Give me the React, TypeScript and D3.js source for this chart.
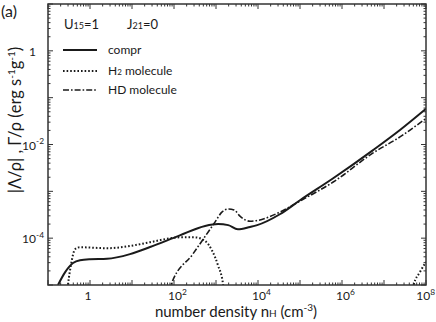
import React from "react";
import * as d3 from "d3";

// compr curve (number density nH, |Lambda/rho|)
const densityCompr = [0.173, 0.254, 0.394, 0.578, 1.0, 2.54, 8.96, 26.9, 138, 550, 1120, 1950, 3310, 6460, 9550, 33100, 1e5, 6.17e5, 5.5e6, 2.4e7, 1e8];
const rateCompr = [1e-5, 1.86e-5, 2.95e-5, 3.39e-5, 3.55e-5, 3.63e-5, 4.57e-5, 6.46e-5, 1.15e-4, 1.82e-4, 2.0e-4, 1.9e-4, 1.55e-4, 1.74e-4, 1.9e-4, 3.24e-4, 6.46e-4, 1.9e-3, 7.6e-3, 0.0204, 0.058];

// H2 molecule (two pieces)
const densityH2a = [0.28, 0.30, 0.353, 0.44, 0.578, 2.54, 8.96, 26.9, 138, 316, 550, 800, 1120, 1480, 1600];
const rateH2a = [5e-6, 1e-5, 2.7e-5, 5.8e-5, 6.4e-5, 6.1e-5, 6.8e-5, 8.2e-5, 1.04e-4, 1.04e-4, 8.7e-5, 5.5e-5, 2.6e-5, 1e-5, 5e-6];
const densityH2b = [4.5e7, 5.1e7, 7.2e7, 1e8];
const rateH2b = [5e-6, 1e-5, 1.9e-5, 3.1e-5];

// HD molecule
const densityHD = [75, 85, 282, 946, 1380, 1950, 2700, 3720, 6460, 1e4, 33100, 1e5, 6.17e5, 5.5e6, 2.4e7, 1e8];
const rateHD = [7e-6, 1e-5, 4.6e-5, 2.2e-4, 3.6e-4, 4.2e-4, 4.0e-4, 2.95e-4, 2.3e-4, 2.4e-4, 3.6e-4, 6.2e-4, 1.58e-3, 6.6e-3, 0.0145, 0.036];

const xLabelExps = [0, 2, 4, 6, 8];
const yLabelExps = [0, -2, -4];

const W = 436;
const H = 322;
const margin = { top: 4, right: 10, bottom: 37, left: 48 };
const FONT = "Lato, 'Open Sans', sans-serif";
const INK = "#1a1a1a";

const zip = (a: number[], b: number[]) => a.map((v, i) => [v, b[i]] as [number, number]);

export default function App() {
  const x = d3.scaleLog().domain([0.1, 1e8]).range([margin.left, W - margin.right]);
  const y = d3.scaleLog().domain([1e-5, 10]).range([H - margin.bottom, margin.top]);
  const [x0, x1] = x.range();
  const [y0, y1] = y.range();

  const line = d3
    .line<[number, number]>()
    .x((d) => x(d[0]))
    .y((d) => y(d[1]))
    .curve(d3.curveMonotoneX);

  // ticks per decade
  const xTicks: { v: number; major: boolean }[] = [];
  for (let e = -1; e <= 8; e++) {
    for (let k = 1; k <= 9; k++) {
      const v = k * Math.pow(10, e);
      if (v > 1e8 * 1.0001) break;
      xTicks.push({ v, major: k === 1 });
    }
  }
  const yTicks: { v: number; major: boolean }[] = [];
  for (let e = -5; e <= 1; e++) {
    for (let k = 1; k <= 9; k++) {
      const v = k * Math.pow(10, e);
      if (v > 10 * 1.0001) break;
      yTicks.push({ v, major: k === 1 });
    }
  }

  const sup = (s: string, size: number) => (
    <tspan dy={-size * 0.45} fontSize={size * 0.7}>
      {s}
    </tspan>
  );

  return (
    <svg
      width={W}
      height={H}
      style={{ position: "absolute", left: 0, top: 0, background: "#fff" }}
      fontFamily={FONT}
    >
      <defs>
        <clipPath id="plot-clip">
          <rect x={x0} y={y1} width={x1 - x0} height={y0 - y1} />
        </clipPath>
      </defs>

      {/* ticks */}
      <g stroke="#333" strokeWidth={1}>
        {xTicks.map((t, i) => {
          const px = x(t.v);
          const len = t.major ? 5 : 2.5;
          return (
            <g key={"xt" + i}>
              <line x1={px} x2={px} y1={y0} y2={y0 - len} />
              <line x1={px} x2={px} y1={y1} y2={y1 + len} />
            </g>
          );
        })}
        {yTicks.map((t, i) => {
          const py = y(t.v);
          const len = t.major ? 5 : 2.5;
          return (
            <g key={"yt" + i}>
              <line x1={x0} x2={x0 + len} y1={py} y2={py} />
              <line x1={x1} x2={x1 - len} y1={py} y2={py} />
            </g>
          );
        })}
      </g>

      {/* curves */}
      <g clipPath="url(#plot-clip)" fill="none" stroke={INK}>
        <path d={line(zip(densityHD, rateHD)) || ""} strokeWidth={1.6} strokeDasharray="6,2,1.6,2" />
        <path d={line(zip(densityH2a, rateH2a)) || ""} strokeWidth={2} strokeDasharray="1.6,2" />
        <path d={line(zip(densityH2b, rateH2b)) || ""} strokeWidth={2} strokeDasharray="1.6,2" />
        <path d={line(zip(densityCompr, rateCompr)) || ""} strokeWidth={2} />
      </g>

      {/* frame */}
      <rect x={x0} y={y1} width={x1 - x0} height={y0 - y1} fill="none" stroke="#333" strokeWidth={1.5} />

      {/* x tick labels */}
      <g fontSize={12} fill={INK}>
        {xLabelExps.map((e) => {
          const px = x(Math.pow(10, e));
          if (e === 0)
            return (
              <text key={"xl" + e} x={px - 2} y={300} textAnchor="middle">
                1
              </text>
            );
          const last = e === xLabelExps[xLabelExps.length - 1];
          return (
            <text
              key={"xl" + e}
              x={last ? W - 1 : px - 6}
              y={300}
              textAnchor={last ? "end" : "start"}
            >
              10{sup(String(e), 12)}
            </text>
          );
        })}
      </g>

      {/* y tick labels */}
      <g fontSize={12} fill={INK} textAnchor="end">
        {yLabelExps.map((e) => (
          <text key={"yl" + e} x={e === 0 ? 36 : 44} y={y(Math.pow(10, e)) + 5}>
            {e === 0 ? "1" : <>10{sup(String(e), 12)}</>}
          </text>
        ))}
      </g>

      {/* axis titles */}
      <text x={236} y={317} fontSize={15} textAnchor="middle" fill={INK}>
        number density{"  "}n<tspan fontSize={10}>H</tspan> (cm<tspan dy={-6} fontSize={10}>-3</tspan><tspan dy={6}>)</tspan>
      </text>
      <text
        transform="translate(21,120) rotate(-90)"
        fontSize={16.5}
        textAnchor="middle"
        fill={INK}
      >
        |Λ/ρ| , Γ/ρ (erg s<tspan dy={-6} fontSize={10}>-1</tspan>
        <tspan dy={6}>g</tspan>
        <tspan dy={-6} fontSize={10}>-1</tspan>
        <tspan dy={6}>)</tspan>
      </text>

      {/* panel label and parameters */}
      <text x={1} y={17} fontSize={16} fill={INK}>(a)</text>
      <text x={64} y={29} fontSize={13} fill={INK}>
        U<tspan fontSize={9}>15</tspan>=1
      </text>
      <text x={127} y={29} fontSize={13} fill={INK}>
        J<tspan fontSize={9}>21</tspan>=0
      </text>

      {/* legend */}
      <g stroke={INK} fill="none">
        <line x1={63} x2={97} y1={50} y2={50} strokeWidth={2} />
        <line x1={63} x2={97} y1={71} y2={71} strokeWidth={2} strokeDasharray="1.6,2" />
        <line x1={63} x2={97} y1={90} y2={90} strokeWidth={1.6} strokeDasharray="6,2,1.6,2" />
      </g>
      <g fontSize={12} fill={INK}>
        <text x={108} y={54}>compr</text>
        <text x={108} y={75}>
          H<tspan fontSize={8}>2</tspan> molecule
        </text>
        <text x={108} y={94}>
          HD molecule
        </text>
      </g>
    </svg>
  );
}
